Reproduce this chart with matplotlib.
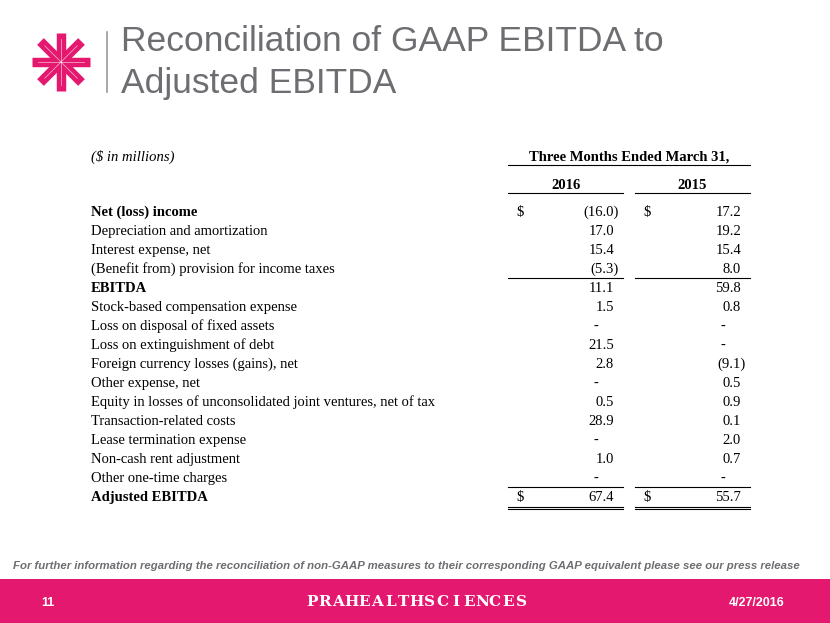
import numpy as np
import matplotlib.pyplot as plt

# table content
labels = ["Net (loss) income", "Depreciation and amortization", "Interest expense, net",
          "(Benefit from) provision for income taxes", "EBITDA",
          "Stock-based compensation expense", "Loss on disposal of fixed assets",
          "Loss on extinguishment of debt", "Foreign currency losses (gains), net",
          "Other expense, net",
          "Equity in losses of unconsolidated joint ventures, net of tax",
          "Transaction-related costs", "Lease termination expense",
          "Non-cash rent adjustment", "Other one-time charges", "Adjusted EBITDA"]
bold_rows = ["Net (loss) income", "EBITDA", "Adjusted EBITDA"]
v2016 = [-16.0, 17.0, 15.4, -5.3, 11.1, 1.5, None, 21.5, 2.8, None, 0.5, 28.9, None, 1.0, None, 67.4]
v2015 = [17.2, 19.2, 15.4, 8.0, 59.8, 0.8, None, None, -9.1, 0.5, 0.9, 0.1, 2.0, 0.7, None, 55.7]
years = ["2016", "2015"]
dollar_rows = ["Net (loss) income", "Adjusted EBITDA"]

title_lines = ["Reconciliation of GAAP EBITDA to", "Adjusted EBITDA"]
note = ("For further information regarding the reconciliation of non-GAAP measures "
        "to their corresponding GAAP equivalent please see our press release")
brand = "PRAHEALTHSCIENCES"
page = "11"
date = "4/27/2016"

pink = "#e5186f"
gray = "#6d6e71"

fig = plt.figure(figsize=(8.3, 6.23), dpi=100)
ax = fig.add_axes([0, 0, 1, 1])
ax.set_xlim(0, 830)
ax.set_ylim(623, 0)
ax.axis("off")

# logo
cx, cy, r = 61, 62, 29
for a in np.arange(0, 180, 45):
    t = np.radians(a)
    ax.plot([cx - r * np.cos(t), cx + r * np.cos(t)], [cy - r * np.sin(t), cy + r * np.sin(t)],
            color=pink, lw=6.8, solid_capstyle="butt")
for a in np.arange(0, 180, 45):
    t = np.radians(a)
    ax.plot([cx - (r - 6) * np.cos(t), cx + (r - 6) * np.cos(t)],
            [cy - (r - 6) * np.sin(t), cy + (r - 6) * np.sin(t)],
            color="white", lw=0.5, alpha=0.7)
ax.plot([107, 107], [32, 92], color="#9a9a9a", lw=1.2)

# title
for i, line in enumerate(title_lines):
    ax.text(121, 51 + i * 42, line, fontsize=25.5, family="Liberation Sans",
            color=gray, va="baseline", ha="left")

# table
serif = "Liberation Serif"
fs = 10.5
bl = 4  # baseline offset from row centre
ax.text(91, 157 + bl, "($ in millions)", fontsize=fs, family=serif, style="italic",
        va="baseline")
ax.text(629, 157 + bl, "Three Months Ended March 31,", fontsize=fs, family=serif,
        weight="bold", va="baseline", ha="center")
ax.plot([508, 750], [165, 165], color="black", lw=0.8)
col_l = [508, 635]
col_r = [623, 750]
num_x = [614, 741]
dollar_x = [520, 647]
dash_x = [596, 723]
for j, y in enumerate(years):
    ax.text((col_l[j] + col_r[j]) / 2, 185 + bl, y, fontsize=fs, family=serif,
            weight="bold", va="baseline", ha="center")
    ax.plot([col_l[j], col_r[j]], [193, 193], color="black", lw=0.8)

row_y = 212 + 19 * np.arange(len(labels))
for i, lab in enumerate(labels):
    y = row_y[i] + bl
    ax.text(91, y, lab, fontsize=fs, family=serif, va="baseline",
            weight="bold" if lab in bold_rows else "normal")
    for j, vals in enumerate([v2016, v2015]):
        v = vals[i]
        if v is None:
            ax.text(dash_x[j], y, "-", fontsize=fs, family=serif, va="baseline", ha="center")
        elif v < 0:
            ax.text(num_x[j] + 5, y, f"({abs(v):.1f})", fontsize=fs, family=serif,
                    va="baseline", ha="right")
        else:
            ax.text(num_x[j], y, f"{v:.1f}", fontsize=fs, family=serif,
                    va="baseline", ha="right")
        if lab in dollar_rows:
            ax.text(dollar_x[j], y, "$", fontsize=fs, family=serif, va="baseline", ha="center")

# rules
for j in range(2):
    ax.plot([col_l[j], col_r[j]], [277.5, 277.5], color="black", lw=0.8)
    ax.plot([col_l[j], col_r[j]], [486.5, 486.5], color="black", lw=0.8)
    ax.plot([col_l[j], col_r[j]], [506.5, 506.5], color="black", lw=0.8)
    ax.plot([col_l[j], col_r[j]], [509, 509], color="black", lw=0.8)

# footnote
ax.text(406, 566, note, fontsize=8.2, family="Liberation Sans",
        style="italic", weight="bold", color=gray, va="center", ha="center")

# footer band
ax.add_patch(plt.Rectangle((0, 579), 830, 44, color=pink, lw=0))
ax.text(48, 603, page, fontsize=9, family="Liberation Sans", weight="bold",
        color="white", va="center", ha="center")
ax.text(757, 603, date, fontsize=9, family="Liberation Sans",
        weight="bold", color="white", va="center", ha="center")
for k, ch in enumerate(brand):
    ax.text(np.linspace(312, 521, len(brand))[k], 602, ch, fontsize=11, family="DejaVu Serif",
            weight="bold", color="white", va="center", ha="center")

fig.savefig("out.png", dpi=100)
